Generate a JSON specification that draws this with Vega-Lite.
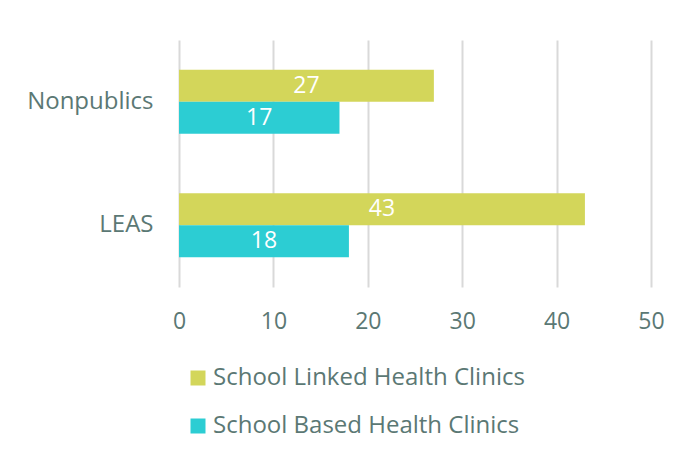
{
  "$schema": "https://vega.github.io/schema/vega-lite/v6.json",
  "autosize": "none",
  "width": 472,
  "height": 247,
  "padding": {"left": 179, "top": 40, "right": 34, "bottom": 167},
  "background": "white",
  "config": {"view": {"stroke": null}, "font": "Open Sans"},
  "data": {"values": [
    {"cat": "Nonpublics", "series": "School Linked Health Clinics", "value": 27},
    {"cat": "Nonpublics", "series": "School Based Health Clinics", "value": 17},
    {"cat": "LEAS", "series": "School Linked Health Clinics", "value": 43},
    {"cat": "LEAS", "series": "School Based Health Clinics", "value": 18}
  ]},
  "encoding": {
    "y": {"field": "cat", "type": "nominal", "sort": ["Nonpublics", "LEAS"],
      "scale": {"paddingInner": 0.48, "paddingOuter": 0.24},
      "axis": {"title": null, "domain": false, "ticks": false, "grid": false, "labelFontSize": 24, "labelColor": "#5b7874", "labelPadding": 26, "labelFont": "Open Sans", "labelLimit": 300}},
    "yOffset": {"field": "series", "type": "nominal", "sort": ["School Linked Health Clinics", "School Based Health Clinics"],
      "scale": {"paddingInner": 0, "paddingOuter": 0}}
  },
  "layer": [
    {
      "mark": {"type": "bar"},
      "encoding": {
        "x": {"field": "value", "type": "quantitative", "scale": {"domain": [0, 50]},
          "axis": {"values": [0, 10, 20, 30, 40, 50], "title": null, "domain": false, "ticks": false, "grid": true, "gridColor": "#d9d9d9", "gridWidth": 2, "labelFontSize": 23, "labelColor": "#5b7874", "labelPadding": 23, "labelFont": "Open Sans", "labelFlush": false}},
        "color": {"field": "series", "type": "nominal",
          "scale": {"domain": ["School Linked Health Clinics", "School Based Health Clinics"], "range": ["#d3d65a", "#2ccdd3"]},
          "legend": {"title": null, "orient": "none", "legendX": 7, "legendY": 326, "direction": "vertical", "symbolType": "square", "symbolSize": 225, "symbolStrokeWidth": 0, "labelFontSize": 24, "labelColor": "#5b7874", "labelFont": "Open Sans", "labelLimit": 500, "rowPadding": 24, "labelOffset": 3, "padding": 0}}
      }
    },
    {
      "transform": [{"calculate": "datum.value / 2", "as": "mid"}],
      "mark": {"type": "text", "color": "white", "fontSize": 23, "font": "Open Sans", "align": "center", "baseline": "middle"},
      "encoding": {
        "x": {"field": "mid", "type": "quantitative"},
        "text": {"field": "value", "type": "quantitative"}
      }
    }
  ]
}
